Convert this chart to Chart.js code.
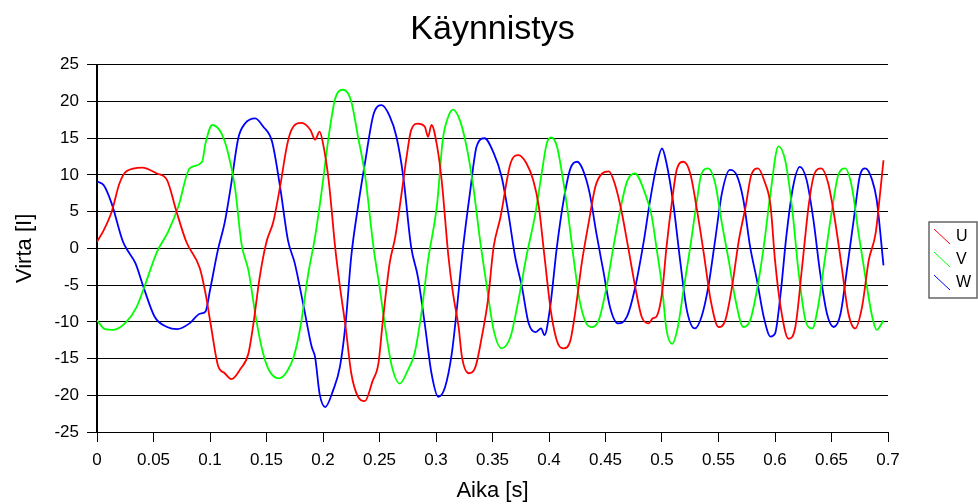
<!DOCTYPE html>
<html>
<head>
<meta charset="utf-8">
<script src="https://cdn.jsdelivr.net/npm/chart.js@4/dist/chart.umd.min.js"></script>
<style>
  html, body { margin: 0; padding: 0; background: #fff; }
  #wrap { width: 978px; height: 504px; }
</style>
</head>
<body>
<div id="wrap"><canvas id="kaynnistys"></canvas></div>
<script>
// luettu kuvasta: aika [s] ja virta [I]
const uT = [0,0.006,0.013,0.020,0.026,0.040,0.053,0.062,0.070,0.079,0.091,0.096,0.101,0.107,0.113,0.119,0.127,0.134,0.138,0.144,0.150,0.156,0.162,0.168,0.172,0.181,0.189,0.193,0.197,0.200,0.205,0.211,0.215,0.220,0.225,0.231,0.237,0.244,0.249,0.253,0.259,0.264,0.270,0.274,0.278,0.284,0.290,0.293,0.296,0.301,0.305,0.311,0.315,0.320,0.323,0.329,0.335,0.340,0.346,0.351,0.357,0.366,0.373,0.380,0.386,0.391,0.396,0.402,0.408,0.413,0.419,0.423,0.429,0.435,0.441,0.447,0.453,0.458,0.464,0.470,0.476,0.482,0.488,0.492,0.495,0.500,0.504,0.509,0.513,0.519,0.525,0.531,0.537,0.543,0.550,0.556,0.562,0.568,0.574,0.579,0.585,0.591,0.596,0.600,0.605,0.612,0.618,0.624,0.630,0.635,0.641,0.647,0.653,0.659,0.665,0.671,0.677,0.683,0.689,0.693,0.696];
const uV = [0.9,2.5,5.0,8.9,10.5,11.0,10.2,9.3,5.2,0.9,-2.7,-6.1,-10.7,-15.9,-17.0,-17.8,-16.4,-14.3,-10.7,-3.9,0.9,3.6,8.4,13.9,16.1,17.1,16.1,14.8,15.9,14.3,9.3,-0.2,-5.2,-10.7,-17.0,-20.2,-20.8,-18.0,-15.7,-9.8,-2.0,1.6,8.0,12.5,16.1,17.0,16.6,15.2,16.8,13.9,9.3,-1.1,-6.1,-10.7,-14.8,-17.0,-16.1,-12.5,-7.0,0.2,4.2,11.6,12.7,11.6,9.3,5.7,-1.1,-8.9,-13.0,-13.6,-12.5,-8.9,-2.0,3.4,8.4,10.2,10.5,8.9,5.2,0.2,-5.0,-9.3,-10.2,-9.5,-9.3,-6.1,0.2,6.6,10.7,11.8,10.2,5.2,-0.7,-7.0,-10.7,-9.8,-5.2,1.1,5.7,10.0,10.9,9.0,5.9,-1.6,-8.0,-12.3,-10.7,-2.5,6.1,10.2,10.9,8.9,3.9,-2.5,-8.9,-10.9,-8.0,-1.6,2.0,7.5,12.0];

const vT = [0,0.007,0.014,0.026,0.035,0.042,0.053,0.063,0.072,0.082,0.093,0.096,0.102,0.110,0.116,0.122,0.128,0.134,0.141,0.147,0.153,0.161,0.168,0.174,0.180,0.187,0.193,0.199,0.205,0.211,0.218,0.225,0.231,0.237,0.245,0.250,0.255,0.261,0.268,0.275,0.281,0.287,0.293,0.301,0.306,0.311,0.315,0.321,0.327,0.333,0.339,0.345,0.351,0.358,0.366,0.373,0.380,0.388,0.394,0.398,0.402,0.407,0.411,0.416,0.422,0.427,0.433,0.438,0.444,0.451,0.457,0.463,0.469,0.476,0.485,0.491,0.495,0.500,0.504,0.509,0.514,0.519,0.525,0.531,0.535,0.541,0.547,0.553,0.559,0.565,0.572,0.578,0.584,0.590,0.596,0.603,0.609,0.615,0.621,0.627,0.633,0.638,0.644,0.650,0.656,0.662,0.668,0.674,0.680,0.686,0.690,0.696];
const vV = [-9.8,-11.0,-11.1,-10.0,-8.0,-5.2,-0.5,2.3,5.7,10.9,11.8,14.3,16.8,15.7,13.0,8.4,0.5,-3.0,-9.8,-14.3,-16.8,-17.7,-16.8,-14.8,-10.7,-3.4,1.6,8.0,15.2,20.5,21.6,20.0,15.2,10.2,-0.2,-5.2,-10.7,-16.1,-18.4,-16.6,-14.3,-8.9,-1.6,6.1,14.8,18.0,18.9,17.5,13.9,8.4,1.1,-5.2,-11.1,-13.6,-12.0,-7.0,-1.1,4.8,10.7,14.3,15.1,13.9,10.7,5.7,-1.6,-7.0,-10.2,-10.7,-9.8,-5.2,0.2,5.2,9.1,10.2,7.5,4.3,0.2,-5.2,-11.1,-13.0,-10.7,-5.7,0.2,6.6,10.2,10.9,8.9,3.4,-1.6,-7.0,-10.7,-9.8,-5.7,0.2,7.5,13.9,12.0,5.7,-3.4,-9.8,-10.9,-8.0,-1.6,4.8,10.0,10.9,8.4,2.0,-3.9,-9.3,-11.1,-9.8];

const wT = [0,0.006,0.013,0.023,0.028,0.034,0.041,0.051,0.062,0.071,0.082,0.091,0.096,0.100,0.107,0.113,0.119,0.125,0.131,0.140,0.147,0.155,0.162,0.169,0.175,0.183,0.190,0.193,0.197,0.202,0.209,0.215,0.220,0.225,0.231,0.237,0.245,0.252,0.259,0.265,0.271,0.278,0.284,0.290,0.296,0.302,0.308,0.314,0.318,0.324,0.330,0.336,0.343,0.351,0.358,0.364,0.370,0.376,0.382,0.388,0.393,0.396,0.401,0.407,0.413,0.419,0.425,0.430,0.436,0.442,0.448,0.454,0.461,0.469,0.476,0.484,0.489,0.495,0.500,0.504,0.510,0.516,0.522,0.529,0.535,0.541,0.547,0.553,0.560,0.566,0.572,0.578,0.584,0.590,0.596,0.600,0.605,0.610,0.616,0.622,0.628,0.634,0.640,0.646,0.652,0.658,0.664,0.670,0.675,0.680,0.686,0.690,0.696];
const wV = [9.1,8.6,6.1,0.9,-0.5,-2.0,-5.2,-9.3,-10.7,-11.0,-10.2,-8.9,-8.6,-5.7,-0.2,3.5,9.0,15.0,17.0,17.7,16.6,14.5,8.4,1.1,-2.0,-8.0,-13.4,-14.8,-19.8,-21.6,-19.3,-16.1,-10.2,-1.1,5.7,11.5,18.4,19.5,18.0,15.2,9.8,0.2,-3.9,-10.2,-17.0,-20.2,-18.9,-14.3,-8.9,0.2,7.5,13.9,15.0,13.0,9.8,4.8,-1.1,-5.2,-10.2,-11.4,-10.9,-11.8,-8.0,0.2,6.6,10.9,11.8,10.7,7.5,2.0,-3.0,-8.0,-10.2,-9.3,-5.5,1.1,6.1,11.1,13.6,11.6,6.1,-1.6,-8.4,-10.9,-9.3,-5.2,1.1,7.5,10.7,10.0,6.6,0.2,-4.3,-9.3,-12.0,-11.6,-6.1,1.6,8.4,11.1,9.3,3.9,-3.4,-8.9,-10.7,-8.9,-2.5,4.3,9.8,10.9,9.3,6.6,-2.3];

const seriesNames = ['U', 'V', 'W'];
const seriesColors = ['#ff0000', '#00ff00', '#0000ff'];

const pts = (t, v) => t.map((x, i) => ({x: x, y: v[i]}));
const FONT = "'Liberation Sans', Arial, sans-serif";

// legend in a box on the right, like the original
const boxLegend = {
  id: 'boxLegend',
  afterDraw(chart) {
    const c = chart.ctx;
    const x0 = 929, y0 = 222, w = 48, h = 76;
    c.save();
    c.strokeStyle = '#666';
    c.lineWidth = 1.5;
    c.strokeRect(x0, y0, w, h);
    c.font = '16px ' + FONT;
    c.textBaseline = 'middle';
    c.fillStyle = '#000';
    chart.data.datasets.forEach((ds, i) => {
      const yc = y0 + 15 + i * 23;
      c.strokeStyle = ds.borderColor;
      c.lineWidth = 1;
      c.beginPath();
      c.moveTo(x0 + 5, yc - 8);
      c.lineTo(x0 + 21, yc + 7);
      c.stroke();
      c.fillText(ds.label, x0 + 27, yc);
    });
    c.restore();
  }
};

new Chart(document.getElementById('kaynnistys'), {
  type: 'line',
  data: {
    datasets: [
      { label: seriesNames[0], data: pts(uT, uV), borderColor: seriesColors[0] },
      { label: seriesNames[1], data: pts(vT, vV), borderColor: seriesColors[1] },
      { label: seriesNames[2], data: pts(wT, wV), borderColor: seriesColors[2] }
    ]
  },
  options: {
    responsive: true,
    maintainAspectRatio: false,
    animation: false,
    layout: { padding: { left: 0, right: 90, top: 0, bottom: 0 } },
    elements: {
      point: { radius: 0 },
      line: { borderWidth: 1.8, cubicInterpolationMode: 'monotone', fill: false }
    },
    plugins: {
      legend: { display: false },
      tooltip: { enabled: false },
      title: {
        display: true,
        fullSize: false,
        text: 'Käynnistys',
        color: '#000',
        font: { family: FONT, size: 34, weight: 'normal' },
        padding: { top: 9, bottom: 15 }
      }
    },
    scales: {
      x: {
        type: 'linear',
        min: 0, max: 0.7,
        ticks: { stepSize: 0.05, color: '#000', padding: 8, maxRotation: 0,
                 font: { family: FONT, size: 17 },
                 callback: v => String(Math.round(v * 100) / 100) },
        grid: { drawOnChartArea: false, drawTicks: true, tickLength: 10, color: '#000' },
        border: { color: '#000', width: 1 },
        title: { display: true, text: 'Aika [s]', color: '#000',
                 font: { family: FONT, size: 22 }, padding: { top: 0, bottom: 0 } },
        afterFit(s) { s.height = 72; }
      },
      y: {
        min: -25, max: 25,
        ticks: { stepSize: 5, color: '#000', padding: 8,
                 font: { family: FONT, size: 17 } },
        grid: { color: '#000', lineWidth: 1, tickLength: 10 },
        border: { color: '#000', width: 2 },
        title: { display: true, text: 'Virta [I]', color: '#000',
                 font: { family: FONT, size: 22 }, padding: { top: 12, bottom: 0 } },
        afterFit(s) { s.width = 97; }
      }
    }
  },
  plugins: [boxLegend]
});
</script>
</body>
</html>
